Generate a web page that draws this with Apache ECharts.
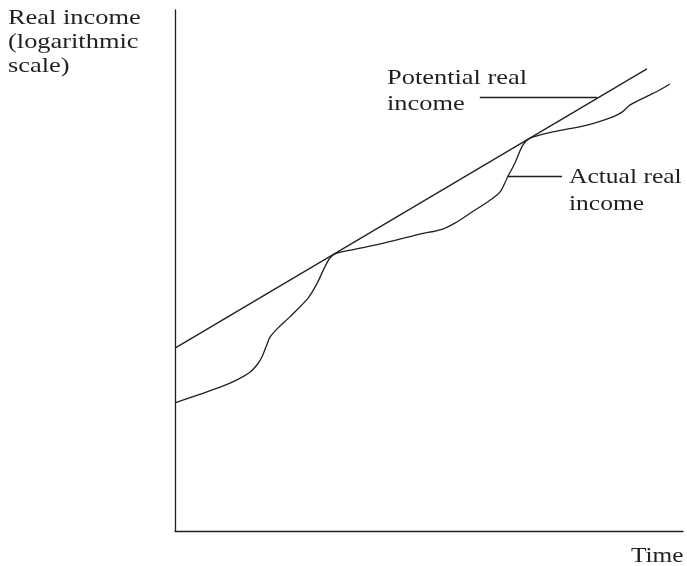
<!DOCTYPE html>
<html>
<head>
<meta charset="utf-8">
<script src="https://cdn.jsdelivr.net/npm/echarts@6/dist/echarts.min.js"></script>
<style>
html,body{margin:0;padding:0;background:#fff;}
#chart{width:687px;height:566px;}
</style>
</head>
<body>
<div id="chart"></div>
<script>
// Time positions (0-100) and real income (log scale, arbitrary units 0-100)
const potentialTime = [0, 92.9];
const potentialIncome = [35.1, 88.7];

const actualTime = [0, 8.9, 12.2, 14.8, 16.3, 17.1, 17.9, 18.7, 20.1, 22.6, 26.2, 28.0, 29.5, 30.5, 31.5, 34.5, 40.4, 48.2, 52.2, 55.1, 58.1, 62.0, 64.0, 65.4, 66.9, 68.5, 69.9, 74.4, 81.1, 86.2, 88.0, 89.6, 93.5, 95.5, 97.4];
const actualIncome = [24.6, 27.6, 29.0, 30.5, 32.1, 33.4, 35.3, 37.2, 38.8, 41.1, 44.7, 47.6, 50.7, 52.4, 53.2, 53.9, 55.1, 57.0, 57.8, 59.1, 61.0, 63.5, 65.1, 67.8, 70.6, 74.1, 75.4, 76.6, 77.9, 79.5, 80.4, 81.8, 83.7, 84.7, 85.8];

// leader lines [x1, x2, y]
const potentialLeader = [60.0, 83.1, 83.3];
const actualLeader = [65.4, 76.2, 68.1];

const ink = '#231f20';
const font = '22px "Liberation Serif", "DejaVu Serif", serif';

const chart = echarts.init(document.getElementById('chart'));
const zip = (a, b) => a.map((v, i) => [v, b[i]]);

function label(x, y, text, lh, sx) {
  return {type: 'text', x: x, y: y, scaleX: sx, scaleY: 1,
    style: {x: 0, y: 0, text: text, font: font, fill: ink, lineHeight: lh, verticalAlign: 'top', align: 'left'}};
}

chart.setOption({
  animation: false,
  grid: {left: 175, right: 4, top: 10, bottom: 35},
  xAxis: {
    type: 'value', min: 0, max: 100,
    axisLine: {show: true, onZero: false, lineStyle: {color: ink, width: 1.3}},
    axisTick: {show: false}, axisLabel: {show: false}, splitLine: {show: false}
  },
  yAxis: {
    type: 'value', min: 0, max: 100,
    axisLine: {show: true, onZero: false, lineStyle: {color: ink, width: 1.3}},
    axisTick: {show: false}, axisLabel: {show: false}, splitLine: {show: false}
  },
  series: [
    {
      name: 'Potential real income', type: 'line',
      data: zip(potentialTime, potentialIncome),
      showSymbol: false, symbol: 'none',
      lineStyle: {color: ink, width: 1.3},
      markLine: {
        silent: true, symbol: 'none',
        lineStyle: {color: ink, width: 1.3, type: 'solid'},
        label: {show: false},
        data: [[{coord: [potentialLeader[0], potentialLeader[2]]}, {coord: [potentialLeader[1], potentialLeader[2]]}]]
      }
    },
    {
      name: 'Actual real income', type: 'line',
      data: zip(actualTime, actualIncome),
      showSymbol: false, symbol: 'none', smooth: 0.3,
      lineStyle: {color: ink, width: 1.3},
      markLine: {
        silent: true, symbol: 'none',
        lineStyle: {color: ink, width: 1.3, type: 'solid'},
        label: {show: false},
        data: [[{coord: [actualLeader[0], actualLeader[2]]}, {coord: [actualLeader[1], actualLeader[2]]}]]
      }
    }
  ],
  graphic: [
    label(8, 6, 'Real income\n(logarithmic\nscale)', 24, 1.2),
    label(387, 65, 'Potential real\nincome', 26, 1.2),
    label(569, 164, 'Actual real\nincome', 27, 1.16),
    label(631, 545, 'Time', 22, 1.15)
  ]
});
</script>
</body>
</html>
